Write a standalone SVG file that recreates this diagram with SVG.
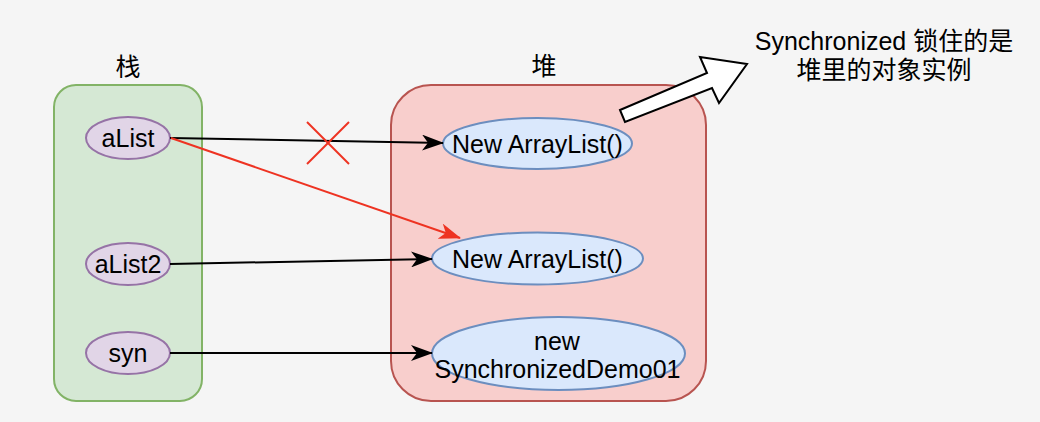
<svg xmlns="http://www.w3.org/2000/svg" width="1040" height="422" viewBox="0 0 1040 422">
<style>
text{font-family:"Liberation Sans",Arial,"Noto Sans CJK SC",sans-serif;font-size:25px;fill:#000;text-anchor:middle}
.stack{fill:#d5e8d4;stroke:#82b366;stroke-width:2}
.heap{fill:#f8cecc;stroke:#b85450;stroke-width:2}
.var{fill:#e1d5e7;stroke:#9673a6;stroke-width:2}
.obj{fill:#dae8fc;stroke:#6c8ebf;stroke-width:2}
.ln{fill:none;stroke:#000;stroke-width:2}
.red{fill:none;stroke:#ee3322;stroke-width:2}
</style>
<defs>
<marker id="ah" markerUnits="userSpaceOnUse" markerWidth="22" markerHeight="16" viewBox="0 0 22 16" refX="21" refY="8" orient="auto">
<path d="M0,0 L22,8 L0,16 L6,8 Z" fill="#000"/>
</marker>
<marker id="ahr" markerUnits="userSpaceOnUse" markerWidth="22" markerHeight="16" viewBox="0 0 22 16" refX="21" refY="8" orient="auto">
<path d="M0,0 L22,8 L0,16 L6,8 Z" fill="#ee3322"/>
</marker>
</defs>
<rect width="1040" height="422" fill="#f5f5f5"/>
<g id="stack">
<rect class="stack" x="54" y="85" width="148" height="316" rx="22"/>
<text x="128" y="76">栈</text>
</g>
<g id="heap">
<rect class="heap" x="391" y="85" width="315" height="316" rx="40"/>
<text x="544" y="75">堆</text>
</g>
<g id="aList">
<ellipse class="var" cx="128" cy="138" rx="42" ry="21"/>
<text x="128" y="147">aList</text>
</g>
<g id="aList2">
<ellipse class="var" cx="128" cy="264" rx="42" ry="21"/>
<text x="128" y="273">aList2</text>
</g>
<g id="syn">
<ellipse class="var" cx="128" cy="353" rx="42" ry="21"/>
<text x="128" y="362">syn</text>
</g>
<g id="obj1">
<ellipse class="obj" cx="537.5" cy="143.5" rx="94.5" ry="25.5"/>
<text x="537.5" y="152.5">New ArrayList()</text>
</g>
<g id="obj2">
<ellipse class="obj" cx="537.5" cy="258.5" rx="105.5" ry="26"/>
<text x="537.5" y="267.5">New ArrayList()</text>
</g>
<g id="obj3">
<ellipse class="obj" cx="558.5" cy="353.5" rx="126.5" ry="36.5"/>
<text x="557" y="350">new</text>
<text x="557.5" y="378">SynchronizedDemo01</text>
</g>
<g id="note">
<text x="884" y="50">Synchronized 锁住的是</text>
<text x="884" y="79">堆里的对象实例</text>
</g>
<g id="connectors">
<line class="ln" x1="170" y1="138" x2="443" y2="143" marker-end="url(#ah)"/>
<line class="ln" x1="170" y1="264" x2="432" y2="259" marker-end="url(#ah)"/>
<line class="ln" x1="170" y1="353" x2="432" y2="353" marker-end="url(#ah)"/>
<line class="red" x1="171" y1="138" x2="460" y2="238" marker-end="url(#ahr)"/>
<line class="red" x1="307" y1="122" x2="349" y2="164"/>
<line class="red" x1="349" y1="122" x2="307" y2="164"/>
<polygon points="620,110 707,73 700,57 747,64 719,103 712,88 625,122" fill="#fff" stroke="#000" stroke-width="2" stroke-linejoin="miter"/>
</g>
</svg>
